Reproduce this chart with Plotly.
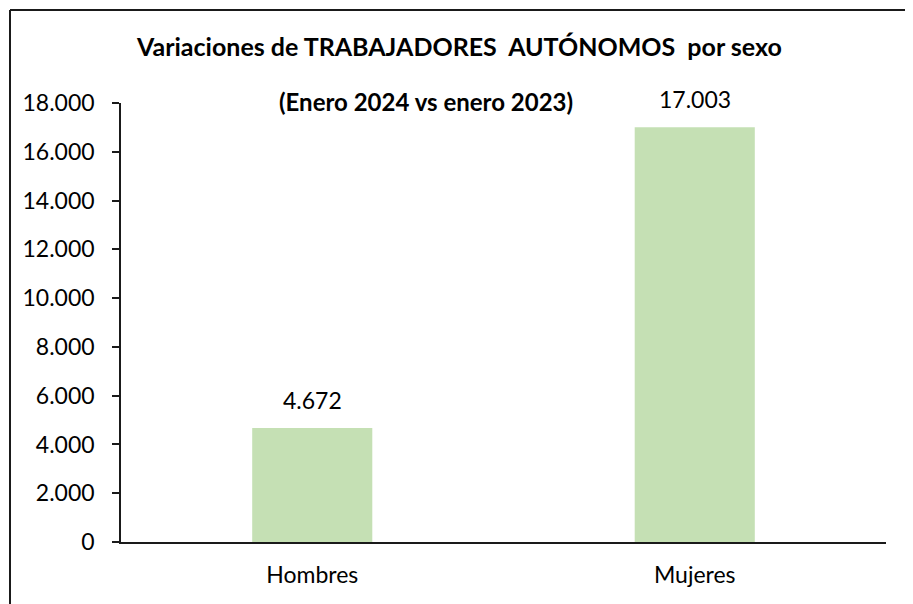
import plotly.graph_objects as go

categories = ["Hombres", "Mujeres"]
values = [4672, 17003]
title_text = "Variaciones de TRABAJADORES  AUTÓNOMOS  por sexo"
subtitle_text = "(Enero 2024 vs enero 2023)"
tick_vals = list(range(0, 18001, 2000))
tick_text = [f"{v:,}".replace(",", ".") for v in tick_vals]

W, H = 913, 604
ML, MR, MT, MB = 113, 35, 95, 70
PW, PH = W - ML - MR, H - MT - MB

def px_x(p):
    return (p - ML) / PW

def px_y(p):
    return (H - MB - p) / PH

FONT = "Lato, Carlito, Calibri, sans-serif"

fig = go.Figure(go.Bar(
    x=categories, y=values,
    marker=dict(color="#C5E0B4", line=dict(width=0)),
    width=0.314,
))

for c, v in zip(categories, values):
    fig.add_annotation(x=c, y=v, text=f"{v:,}".replace(",", "."), showarrow=False,
                       yanchor="bottom", yshift=12,
                       font=dict(family=FONT, size=23, color="#000"))

fig.add_annotation(xref="paper", yref="paper", x=px_x(451), y=px_y(38),
                   text="<b>" + title_text + "</b>", showarrow=False,
                   xanchor="center", yanchor="middle",
                   font=dict(family=FONT, size=25, color="#000"))
fig.add_annotation(xref="paper", yref="paper", x=px_x(418), y=px_y(93),
                   text="<b>" + subtitle_text + "</b>", showarrow=False,
                   xanchor="center", yanchor="middle",
                   font=dict(family=FONT, size=24, color="#000"))

# chart border
fig.add_shape(type="line", xref="paper", yref="paper",
              x0=px_x(2), x1=px_x(W + 5), y0=px_y(2), y1=px_y(2),
              line=dict(color="#1a1a1a", width=2))
fig.add_shape(type="line", xref="paper", yref="paper",
              x0=px_x(2), x1=px_x(2), y0=px_y(2), y1=px_y(H + 5),
              line=dict(color="#1a1a1a", width=2))

fig.update_layout(
    width=W, height=H,
    margin=dict(l=ML, r=MR, t=MT, b=MB),
    paper_bgcolor="white", plot_bgcolor="white",
    showlegend=False,
    separators=",.",
    font=dict(family=FONT, size=23, color="#000"),
    xaxis=dict(showline=True, linecolor="#1a1a1a", linewidth=1.5,
               ticks="", showgrid=False, zeroline=False, ticklabelstandoff=12,
               tickfont=dict(family=FONT, size=23, color="#000")),
    yaxis=dict(range=[0, 18000], tickvals=tick_vals, ticktext=tick_text,
               showline=True, linecolor="#1a1a1a", linewidth=1.5,
               ticks="outside", ticklen=7, tickcolor="#1a1a1a", tickwidth=1.5,
               showgrid=False, zeroline=False, ticklabelstandoff=13,
               tickfont=dict(family=FONT, size=23, color="#000")),
)

fig.write_html("out.html")
